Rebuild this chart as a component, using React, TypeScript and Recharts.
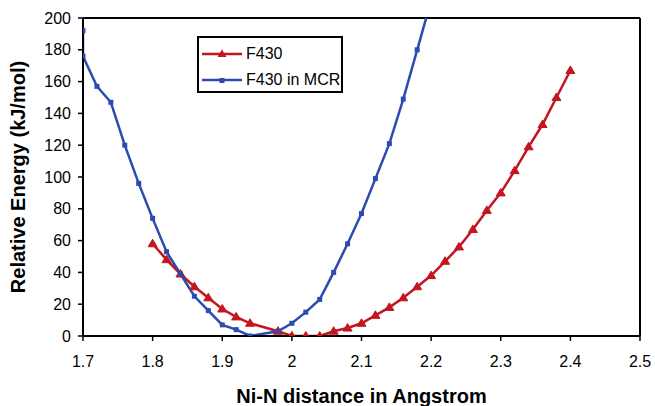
import { LineChart, Line, XAxis, YAxis, Legend, ReferenceLine } from "recharts"

// Ni-N distance (Angstrom) and relative energy (kJ/mol)
const f430Distance = [
  1.8, 1.82, 1.84, 1.86, 1.88, 1.9, 1.92, 1.94, 1.98, 2.0, 2.02, 2.04, 2.06, 2.08, 2.1,
  2.12, 2.14, 2.16, 2.18, 2.2, 2.22, 2.24, 2.26, 2.28, 2.3, 2.32, 2.34, 2.36, 2.38, 2.4,
]
const f430Energy = [
  58, 48, 39, 31, 24, 17, 12, 8, 3, 0, 0, 0, 3, 5, 8,
  13, 18, 24, 31, 38, 47, 56, 67, 79, 90, 104, 119, 133, 150, 167,
]

const mcrDistance = [
  1.7, 1.7, 1.72, 1.74, 1.76, 1.78, 1.8, 1.82, 1.84, 1.86, 1.88, 1.9, 1.92, 1.94, 1.98,
  2.0, 2.02, 2.04, 2.06, 2.08, 2.1, 2.12, 2.14, 2.16, 2.18, 2.2,
]
const mcrEnergy = [
  192, 176, 157, 147, 120, 96, 74, 53, 39, 25, 16, 7, 4, 0, 3,
  8, 15, 23, 40, 58, 77, 99, 121, 149, 180, 211,
]

const xTicks = [1.7, 1.8, 1.9, 2.0, 2.1, 2.2, 2.3, 2.4, 2.5]
const yTicks = [0, 20, 40, 60, 80, 100, 120, 140, 160, 180, 200]

const RED = "#C3161F"
const BLUE = "#2C4BB2"
const FONT = "'Liberation Sans', Arial, sans-serif"

const f430 = f430Distance.map((x, i) => ({ x, y: f430Energy[i] }))
const mcr = mcrDistance.map((x, i) => ({ x, y: mcrEnergy[i] }))

function Triangle(props: any) {
  const { cx, cy } = props
  if (cx == null || cy == null) return null
  return <path d={`M${cx},${cy - 4.5}L${cx + 4.5},${cy + 3}L${cx - 4.5},${cy + 3}Z`} fill={RED} stroke={RED} strokeWidth={1} />
}

function Square(props: any) {
  const { cx, cy } = props
  if (cx == null || cy == null) return null
  return <rect x={cx - 2.5} y={cy - 2.5} width={5} height={5} fill={BLUE} />
}

function LegendBox({ payload }: any) {
  return (
    <div
      style={{
        border: "2px solid #000",
        background: "#fff",
        width: 146,
        height: 57,
        boxSizing: "border-box",
        padding: "3px 0 0 3px",
        fontFamily: FONT,
        fontSize: 16,
        color: "#000",
        whiteSpace: "nowrap",
      }}
    >
      {(payload || []).map((entry: any) => {
        const isRed = entry.color === RED
        return (
          <div key={entry.value} style={{ display: "flex", alignItems: "center", height: 26 }}>
            <svg width={42} height={12} style={{ marginRight: 2, flex: "none" }}>
              <line x1={0} y1={6} x2={40} y2={6} stroke={entry.color} strokeWidth={2.5} />
              {isRed ? (
                <path d="M20,1.5L24.5,9L15.5,9Z" fill={RED} />
              ) : (
                <rect x={17.5} y={4} width={5} height={5} fill={BLUE} />
              )}
            </svg>
            <span>{entry.value}</span>
          </div>
        )
      })}
    </div>
  )
}

export default function App() {
  return (
    <div style={{ position: "absolute", left: 0, top: 0, background: "#fff" }}>
      <LineChart width={655} height={406} margin={{ top: 18, right: 15, bottom: 0, left: 0 }}>
        <XAxis
          dataKey="x"
          type="number"
          domain={[1.7, 2.5]}
          ticks={xTicks}
          allowDataOverflow
          height={70}
          stroke="#000"
          axisLine={{ stroke: "#000", strokeWidth: 2 }}
          tickLine={{ stroke: "#000", strokeWidth: 1.5 }}
          tickSize={5}
          tickMargin={15}
          tick={{ fill: "#000", fontSize: 16, fontFamily: FONT }}
          tickFormatter={(v: number) => String(v)}
          label={{
            value: "Ni-N distance in Angstrom",
            position: "insideBottom",
            offset: 3,
            style: { fill: "#000", fontSize: 20, fontWeight: "bold", fontFamily: FONT },
          }}
        />
        <YAxis
          type="number"
          domain={[0, 200]}
          ticks={yTicks}
          allowDataOverflow
          width={83}
          stroke="#000"
          axisLine={{ stroke: "#000", strokeWidth: 2 }}
          tickLine={{ stroke: "#000", strokeWidth: 1.5 }}
          tickSize={5}
          tickMargin={7}
          tick={{ fill: "#000", fontSize: 16, fontFamily: FONT }}
          label={{
            value: "Relative Energy (kJ/mol)",
            angle: -90,
            position: "insideLeft",
            offset: 18,
            style: { fill: "#000", fontSize: 20, fontWeight: "bold", fontFamily: FONT, textAnchor: "middle" },
          }}
        />
        <ReferenceLine y={200} stroke="#000" strokeWidth={2} ifOverflow="visible" />
        <ReferenceLine x={2.5} stroke="#000" strokeWidth={2} ifOverflow="visible" />
        <Legend
          layout="vertical"
          align="center"
          verticalAlign="middle"
          content={<LegendBox />}
          wrapperStyle={{ left: 197, top: 36, width: 146, height: 57 }}
        />
        <Line
          name="F430"
          data={f430}
          dataKey="y"
          stroke={RED}
          strokeWidth={2.5}
          dot={(p: any) => <Triangle key={`t${p.index}`} {...p} />}
          activeDot={false}
          isAnimationActive={false}
        />
        <Line
          name="F430 in MCR"
          data={mcr}
          dataKey="y"
          stroke={BLUE}
          strokeWidth={2.5}
          dot={(p: any) => <Square key={`s${p.index}`} {...p} />}
          activeDot={false}
          isAnimationActive={false}
        />
      </LineChart>
    </div>
  )
}
